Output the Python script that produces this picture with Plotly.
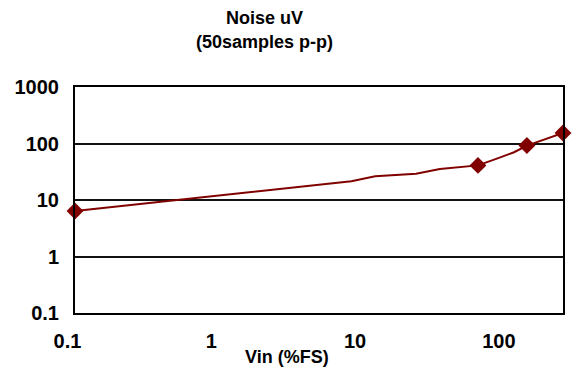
import plotly.graph_objects as go

# Input level in % of full scale and measured peak-to-peak noise (uV)
vin_pct = [0.1, 5, 7, 12.5, 17.5, 30, 40, 50, 60, 100]
noise_uv = [6.4, 21.5, 26.3, 29.2, 35.4, 41, 55, 70, 92, 153]
# Measured points that carry a marker
marked_idx = [0, 5, 8, 9]

x_ticks = [0.1, 1, 10, 100]
x_ticktext = ["0.1", "1", "10", "100"]
y_ticks = [0.1, 1, 10, 100, 1000]
y_ticktext = ["0.1", "1", "10", "100", "1000"]

DARK_RED = "#800000"
FONT = "Liberation Sans, Arial, sans-serif"

W, H = 581, 387
# paper area (pixels)
PL, PR, T, B = 50, 571, 87, 74
# plot frame (pixels)
FL, FR = 75, 563
PW = PR - PL


def px_x(p):
    return (p - PL) / PW


def px_y(p):
    return (H - B - p) / (H - T - B)


fig = go.Figure()
fig.add_trace(go.Scatter(
    x=vin_pct, y=noise_uv, mode="lines",
    line=dict(color=DARK_RED, width=2),
    cliponaxis=False, showlegend=False, hoverinfo="skip",
))
fig.add_trace(go.Scatter(
    x=[vin_pct[i] for i in marked_idx],
    y=[noise_uv[i] for i in marked_idx],
    mode="markers",
    marker=dict(symbol="diamond", size=13, color=DARK_RED,
                line=dict(width=0)),
    cliponaxis=False, showlegend=False,
))
# empty trace so the label axes are laid out
fig.add_trace(go.Scatter(x=[], y=[], xaxis="x2", yaxis="y2",
                         showlegend=False, hoverinfo="skip"))

# label axis: decades spaced 143.8 px, 0.1 centred at x=67.5 px
dec = 143.8
lab_range = [-1 + (PL - 67.5) / dec, -1 + (PR - 67.5) / dec]

fig.update_layout(
    width=W, height=H,
    margin=dict(l=PL, r=W - PR, t=T, b=B, pad=0),
    paper_bgcolor="white", plot_bgcolor="rgba(0,0,0,0)",
    font=dict(family=FONT, color="black", size=18),
    xaxis=dict(
        type="log", range=[-1, 2], domain=[px_x(FL), px_x(FR)],
        showgrid=False, zeroline=False,
        showline=True, linecolor="black", linewidth=2, mirror=True,
        tickvals=x_ticks, showticklabels=False, ticks="",
    ),
    xaxis2=dict(
        type="log", range=lab_range, domain=[0, 1],
        anchor="y2", side="bottom",
        showgrid=False, zeroline=False, showline=False,
        tickvals=x_ticks, ticktext=x_ticktext, ticks="",
        tickfont=dict(family=FONT, size=20, color="black", weight="bold"),
        ticklabelstandoff=14,
    ),
    yaxis=dict(
        type="log", range=[-1, 3], anchor="x",
        showgrid=True, gridcolor="#111111", gridwidth=1.5,
        zeroline=False,
        showline=True, linecolor="black", linewidth=2, mirror=True,
        tickvals=y_ticks, ticktext=y_ticktext, ticks="",
        tickfont=dict(family=FONT, size=20, color="black", weight="bold"),
        ticklabelstandoff=10,
    ),
    yaxis2=dict(
        anchor="x2", domain=[0, 1], range=[0, 1], visible=False,
        showgrid=False, zeroline=False,
    ),
    annotations=[
        dict(text="<b>Noise uV</b>", xref="paper", yref="paper",
             x=px_x(264), y=px_y(17.5), xanchor="center", yanchor="middle",
             showarrow=False, font=dict(family=FONT, size=18, color="black")),
        dict(text="<b>(50samples p-p)</b>", xref="paper", yref="paper",
             x=px_x(264), y=px_y(42), xanchor="center", yanchor="middle",
             showarrow=False, font=dict(family=FONT, size=18, color="black")),
        dict(text="<b>Vin (%FS)</b>", xref="paper", yref="paper",
             x=px_x(286.5), y=px_y(357), xanchor="center", yanchor="middle",
             showarrow=False, font=dict(family=FONT, size=18, color="black")),
    ],
)

fig.write_html("out.html")
